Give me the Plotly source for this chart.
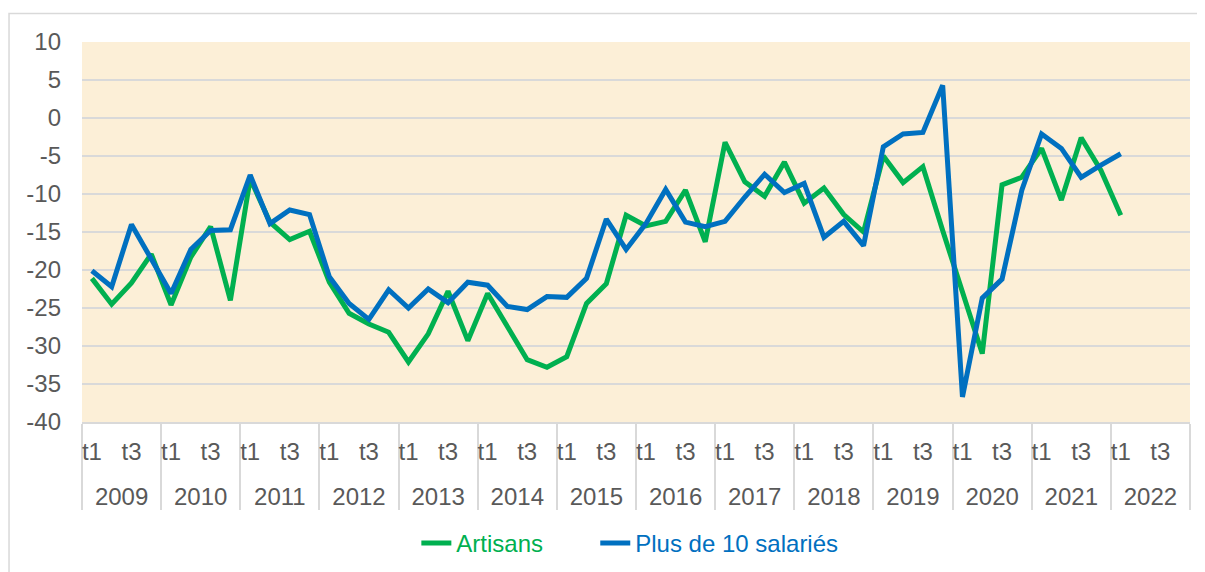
import plotly.graph_objects as go

YEARS = [str(y) for y in range(2009, 2023)]
QUARTERS = ["t1", "t2", "t3", "t4"]
QUARTER_LABELS = ["t1", "", "t3", ""]

ARTISANS = [
    -21.1, -24.5, -21.7, -17.9,
    -24.6, -18.3, -14.3, -24.0,
    -8.0, -13.7, -16.0, -14.9,
    -21.6, -25.7, -27.1, -28.2,
    -32.1, -28.4, -22.8, -29.3,
    -23.1, -27.5, -31.8, -32.8,
    -31.4, -24.4, -21.8, -12.8,
    -14.2, -13.6, -9.5, -16.3,
    -3.2, -8.4, -10.3, -5.8,
    -11.2, -9.2, -12.7, -15.0,
    -5.0, -8.5, -6.4, -14.8,
    -23.0, -31.0, -8.8, -7.8,
    -4.0, -10.8, -2.6, -6.9,
    -12.8,
]

PLUS10 = [
    -20.1, -22.2, -14.0, -18.6,
    -23.1, -17.3, -14.8, -14.7,
    -7.5, -13.9, -12.1, -12.7,
    -20.9, -24.4, -26.5, -22.6,
    -25.0, -22.5, -24.3, -21.6,
    -22.0, -24.8, -25.2, -23.5,
    -23.6, -21.1, -13.3, -17.3,
    -13.9, -9.4, -13.7, -14.3,
    -13.6, -10.4, -7.4, -9.8,
    -8.6, -15.7, -13.6, -16.8,
    -3.8, -2.1, -1.9, 4.3,
    -36.7, -23.7, -21.2, -9.5,
    -2.1, -4.0, -7.8, -6.2,
    -4.7,
]

Y_TICKS = list(range(-40, 15, 5))

# quarter slots (one per year/quarter pair), index-based positions on the axis
slots = [(y, q) for y in YEARS for q in QUARTERS]
n = len(slots)
nq = len(QUARTERS)
x_pos = list(range(n))
quarter_ticktext = [lab for _ in YEARS for lab in QUARTER_LABELS]
year_centers = [i * nq + (nq - 1) / 2 for i in range(len(YEARS))]
year_bounds = [i * nq - 0.5 for i in range(len(YEARS) + 1)]
x_range = [-0.5, n - 0.5]

def pad(vals):
    return list(vals) + [None] * (n - len(vals))

GREEN = "#00B050"
BLUE = "#0070C0"
TXT = "#595959"
GRID = "#D9D9D9"
FONT = "Liberation Sans, Arial, sans-serif"
FS = 24

# the page body adds an 8px offset; target pixel positions are in window coords
OFF = 8
W, H = 1205, 572
L = 81.5 - OFF
T = 42 - OFF
R = W - (1190 - OFF)
B = H - (421.7 - OFF)
pw = W - L - R
ph = H - T - B

def px_x(px):
    return (px - OFF - L) / pw

def px_y(py):
    return (H - B - (py - OFF)) / ph

fig = go.Figure()
fig.add_trace(go.Scatter(
    x=x_pos, y=pad(ARTISANS), mode="lines",
    name=f'<span style="color:{GREEN}">Artisans</span>',
    line=dict(color=GREEN, width=5),
    xaxis="x", yaxis="y", legend="legend",
))
fig.add_trace(go.Scatter(
    x=x_pos, y=pad(PLUS10), mode="lines",
    name=f'<span style="color:{BLUE}">Plus de 10 salariés</span>',
    line=dict(color=BLUE, width=5),
    xaxis="x2", yaxis="y", legend="legend2",
))

legend_common = dict(
    orientation="h", xanchor="left", yanchor="middle",
    y=px_y(543),
    font=dict(size=FS, family=FONT),
    bgcolor="rgba(0,0,0,0)",
)

fig.update_layout(
    width=W, height=H,
    margin=dict(l=L, r=R, t=T, b=B, pad=0, autoexpand=False),
    paper_bgcolor="white",
    plot_bgcolor="#FCEFD7",
    font=dict(family=FONT, size=FS, color=TXT),
    showlegend=True,
    legend=dict(x=px_x(416), **legend_common),
    legend2=dict(x=px_x(595), **legend_common),
    xaxis=dict(
        range=x_range,
        tickmode="array", tickvals=x_pos, ticktext=quarter_ticktext,
        showgrid=False,
        showline=True, linecolor=GRID, linewidth=1.5,
        tickfont=dict(size=FS, color=TXT, family=FONT),
        tickangle=0,
        ticks="",
        ticklabelstandoff=7,
        zeroline=False,
        minor=dict(tickmode="array", tickvals=year_bounds, ticks="outside",
                   ticklen=86, tickwidth=1.5, tickcolor=GRID, showgrid=False),
    ),
    xaxis2=dict(
        overlaying="x", anchor="y", side="bottom",
        range=x_range,
        tickmode="array", tickvals=year_centers, ticktext=YEARS,
        ticks="",
        ticklabelstandoff=58,
        tickfont=dict(size=FS, color=TXT, family=FONT),
        tickangle=0,
        showgrid=False, zeroline=False, showline=False,
    ),
    yaxis=dict(
        range=[-40, 10],
        tickvals=Y_TICKS,
        ticktext=[str(v) for v in Y_TICKS],
        showgrid=True, gridcolor=GRID, gridwidth=1.5,
        zeroline=False,
        showline=False,
        ticks="",
        ticklabelstandoff=20,
        tickfont=dict(size=FS, color=TXT, family=FONT),
    ),
    shapes=[
        dict(type="rect", xref="paper", yref="paper",
             x0=px_x(8.5), x1=px_x(1230), y0=px_y(600), y1=px_y(13.5),
             line=dict(color=GRID, width=1.5), fillcolor="rgba(0,0,0,0)",
             layer="below"),
    ],
)

fig.write_html("out.html")
